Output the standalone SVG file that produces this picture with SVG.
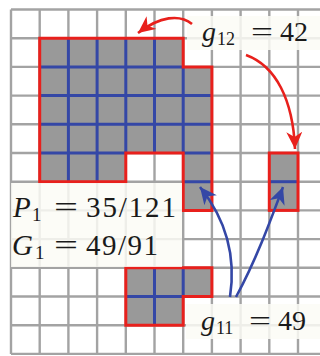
<svg xmlns="http://www.w3.org/2000/svg" width="320" height="356" viewBox="0 0 320 356">
<defs>
<style>
.grid line{stroke:#a3a3a3;stroke-width:2.4}
.cell{fill:#999999;stroke:none}
.adj{stroke:#3447a6;stroke-width:3;fill:none}
.border{fill:none;stroke:#e8201c;stroke-width:3;stroke-linejoin:miter}
.lab{fill:#fbfbf6;fill-opacity:0.85}
.t{font-family:"Liberation Serif","DejaVu Serif",serif;fill:#1a1a1a}
.it{font-style:italic}
.ra{fill:none;stroke:#e8201c;stroke-width:2.6}
.ba{fill:none;stroke:#3447a6;stroke-width:2.6}
</style>
<marker id="mr" markerUnits="userSpaceOnUse" markerWidth="20" markerHeight="18" refX="17" refY="8" orient="auto"><path d="M0,0 L17,8 L0,16 L5,8 z" fill="#e8201c"/></marker>
<marker id="mb" markerUnits="userSpaceOnUse" markerWidth="20" markerHeight="18" refX="17" refY="8" orient="auto"><path d="M0,0 L17,8 L0,16 L5,8 z" fill="#3447a6"/></marker>
</defs>
<rect width="320" height="356" fill="#ffffff"/>
<g id="grid" class="grid">
<line x1="11" y1="9.5" x2="11" y2="353.9"/>
<line x1="39.7" y1="9.5" x2="39.7" y2="353.9"/>
<line x1="68.4" y1="9.5" x2="68.4" y2="353.9"/>
<line x1="97.1" y1="9.5" x2="97.1" y2="353.9"/>
<line x1="125.8" y1="9.5" x2="125.8" y2="353.9"/>
<line x1="154.5" y1="9.5" x2="154.5" y2="353.9"/>
<line x1="183.2" y1="9.5" x2="183.2" y2="353.9"/>
<line x1="211.9" y1="9.5" x2="211.9" y2="353.9"/>
<line x1="240.6" y1="9.5" x2="240.6" y2="353.9"/>
<line x1="269.3" y1="9.5" x2="269.3" y2="353.9"/>
<line x1="298" y1="9.5" x2="298" y2="353.9"/>
<line x1="11" y1="9.5" x2="320" y2="9.5"/>
<line x1="11" y1="38.2" x2="320" y2="38.2"/>
<line x1="11" y1="66.9" x2="320" y2="66.9"/>
<line x1="11" y1="95.6" x2="320" y2="95.6"/>
<line x1="11" y1="124.3" x2="320" y2="124.3"/>
<line x1="11" y1="153" x2="320" y2="153"/>
<line x1="11" y1="181.7" x2="320" y2="181.7"/>
<line x1="11" y1="210.4" x2="320" y2="210.4"/>
<line x1="11" y1="239.1" x2="320" y2="239.1"/>
<line x1="11" y1="267.8" x2="320" y2="267.8"/>
<line x1="11" y1="296.5" x2="320" y2="296.5"/>
<line x1="11" y1="325.2" x2="320" y2="325.2"/>
<line x1="11" y1="353.9" x2="320" y2="353.9"/>
</g>
<g id="region-main">
<path class="cell" d="M39.7,38.2 H183.2 V66.9 H211.9 V210.4 H183.2 V153 H125.8 V181.7 H39.7 Z"/>
<path class="adj" d="M68.4,38.2 V181.7 M97.1,38.2 V181.7 M125.8,38.2 V153 M154.5,38.2 V153 M183.2,66.9 V153 M39.7,66.9 H183.2 M39.7,95.6 H211.9 M39.7,124.3 H211.9 M39.7,153 H125.8 M183.2,153 H211.9 M183.2,181.7 H211.9"/>
<path class="border" d="M39.7,38.2 H183.2 V66.9 H211.9 V210.4 H183.2 V153 H125.8 V181.7 H39.7 Z"/>
</g>
<g id="region-right">
<rect class="cell" x="269.3" y="153" width="28.7" height="57.4"/>
<path class="adj" d="M269.3,181.7 H298"/>
<rect class="border" x="269.3" y="153" width="28.7" height="57.4"/>
</g>
<g id="region-bottom">
<path class="cell" d="M125.8,267.8 H211.9 V296.5 H183.2 V325.2 H125.8 Z"/>
<path class="adj" d="M154.5,267.8 V325.2 M183.2,267.8 V296.5 M125.8,296.5 H183.2"/>
<path class="border" d="M125.8,267.8 H211.9 V296.5 H183.2 V325.2 H125.8 Z"/>
</g>
<g id="label-g12">
<rect class="lab" x="187" y="16" width="133" height="34"/>
<text class="t it" x="202" y="41" font-size="28">g</text>
<text class="t" x="217" y="45" font-size="18">12</text>
<text class="t" x="251" y="41" font-size="28" textLength="22" lengthAdjust="spacingAndGlyphs">=</text>
<text class="t" x="280" y="41" font-size="28">42</text>
</g>
<g id="label-P1G1">
<rect class="lab" x="11" y="183" width="171" height="84"/>
<text class="t it" x="13" y="217" font-size="29">P</text>
<text class="t" x="32" y="221" font-size="19">1</text>
<text class="t" x="54" y="217" font-size="29" textLength="24" lengthAdjust="spacingAndGlyphs">=</text>
<text class="t" x="86" y="217" font-size="29" textLength="90">35/121</text>
<text class="t it" x="12" y="255" font-size="29">G</text>
<text class="t" x="35" y="259" font-size="19">1</text>
<text class="t" x="54" y="255" font-size="29" textLength="24" lengthAdjust="spacingAndGlyphs">=</text>
<text class="t" x="86" y="255" font-size="29" textLength="72">49/91</text>
</g>
<g id="label-g11">
<rect class="lab" x="186" y="304" width="134" height="35"/>
<text class="t it" x="201" y="330" font-size="28">g</text>
<text class="t" x="216" y="334" font-size="18">11</text>
<text class="t" x="249" y="330" font-size="28" textLength="22" lengthAdjust="spacingAndGlyphs">=</text>
<text class="t" x="278" y="330" font-size="28">49</text>
</g>
<g id="connectors">
<path class="ra" d="M192,24 C180,14 160,16 138,33" marker-end="url(#mr)"/>
<path class="ra" d="M246,55 C276,66 293,100 295,149" marker-end="url(#mr)"/>
<path class="ba" d="M230,297 C236,258 228,222 200,187" marker-end="url(#mb)"/>
<path class="ba" d="M236,297 C256,260 270,222 283,187" marker-end="url(#mb)"/>
</g>
</svg>
